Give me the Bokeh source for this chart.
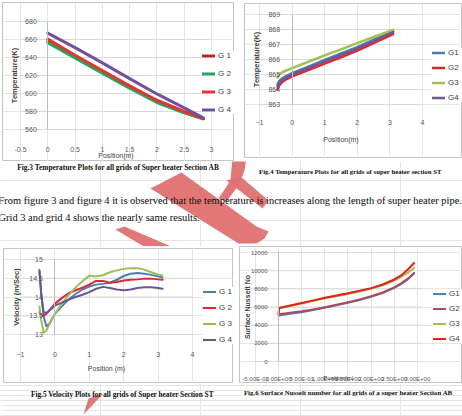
from bokeh.plotting import figure
from bokeh.layouts import column, row
from bokeh.models import (Range1d, LinearAxis, FixedTicker, Legend, LegendItem,
                          CustomJSTickFormatter)
from bokeh.core.properties import value
from bokeh.embed import file_html
from bokeh.resources import INLINE

# ---------------- data ----------------
series_names_spaced = ["G 1", "G 2", "G 3", "G 4"]
series_names = ["G1", "G2", "G3", "G4"]

# Fig.3  temperature along section AB
pos_ab = [0, 0.5, 1, 1.5, 2, 2.5, 2.85]
temp_ab_g1 = [658, 641, 623.5, 607, 591, 579, 572]
temp_ab_g2 = [656.5, 639.5, 622.5, 606, 590, 578.5, 572]
temp_ab_g3 = [660.5, 642.5, 625.5, 608.5, 592.5, 580, 572]
temp_ab_g4 = [667, 651, 634, 616.5, 599.5, 584, 573]
temp_ab_xticks = [-0.5, 0, 0.5, 1, 1.5, 2, 2.5, 3]
temp_ab_yticks = [560, 580, 600, 620, 640, 660, 680]

# Fig.4  temperature along section ST
pos_st = [-0.45, -0.4, -0.3, -0.2, 0, 0.5, 1, 1.5, 2, 2.5, 3.1]
temp_st_g1 = [864.35, 864.55, 864.75, 864.88, 865.09, 865.53, 865.97, 866.4, 866.83, 867.32, 867.88]
temp_st_g2 = [864.0, 864.25, 864.5, 864.65, 864.87, 865.3, 865.72, 866.15, 866.6, 867.1, 867.7]
temp_st_g3 = [864.8, 865.0, 865.15, 865.25, 865.42, 865.85, 866.27, 866.68, 867.09, 867.5, 867.98]
temp_st_g4 = [864.2, 864.4, 864.62, 864.77, 865.0, 865.44, 865.87, 866.3, 866.74, 867.22, 867.82]
temp_st_xticks = [-1, 0, 1, 2, 3, 4]
temp_st_yticks = [863, 864, 865, 866, 867, 868, 869]

# Fig.5  velocity along section ST
pos_vel = [-0.45, -0.4, -0.33, -0.25, -0.15, 0, 0.2, 0.4, 0.6, 0.8, 1.0, 1.2,
           1.4, 1.6, 1.8, 2.0, 2.2, 2.4, 2.6, 2.8, 3.0, 3.13]
vel_g1 = [14.68, 14.1, 13.5, 13.22, 13.3, 13.55, 13.75, 13.93, 14.08, 14.2, 14.28, 14.33,
          14.35, 14.38, 14.46, 14.56, 14.62, 14.64, 14.62, 14.59, 14.55, 14.52]
vel_g2 = [13.6, 13.52, 13.5, 13.55, 13.65, 13.82, 13.97, 14.1, 14.18, 14.25, 14.33, 14.43,
          14.43, 14.38, 14.4, 14.44, 14.46, 14.47, 14.49, 14.49, 14.47, 14.46]
vel_g3 = [13.75, 13.4, 13.05, 13.1, 13.3, 13.55, 13.82, 14.05, 14.25, 14.42, 14.57, 14.55,
          14.58, 14.66, 14.71, 14.75, 14.77, 14.77, 14.73, 14.66, 14.6, 14.57]
vel_g4 = [14.72, 14.1, 13.6, 13.57, 13.65, 13.77, 13.85, 13.93, 14.0, 14.06, 14.13, 14.22,
          14.27, 14.24, 14.2, 14.18, 14.2, 14.24, 14.26, 14.26, 14.24, 14.22]
vel_xticks = [-1, 0, 1, 2, 3, 4]
vel_yticks = [13, 13.5, 14, 14.5, 15]

# Fig.6  surface Nusselt number along section AB
pos_nu = [0, 0.01, 0.25, 0.5, 0.75, 1, 1.25, 1.5, 1.75, 2, 2.25, 2.5, 2.65, 2.8, 2.93]
nu_g1 = [5000, 5060, 5260, 5430, 5660, 5920, 6180, 6460, 6770, 7120, 7540, 8100, 8520, 9070, 9680]
nu_g2 = [5150, 5200, 5370, 5520, 5740, 5980, 6240, 6520, 6820, 7180, 7600, 8170, 8600, 9150, 9750]
nu_g3 = [5200, 5850, 6110, 6380, 6660, 6950, 7190, 7440, 7700, 8000, 8390, 8900, 9300, 9800, 10300]
nu_g4 = [5200, 5900, 6170, 6440, 6730, 7020, 7260, 7510, 7780, 8080, 8480, 9030, 9480, 10150, 10850]
nu_xticks = [-0.5, 0, 0.5, 1, 1.5, 2, 2.5, 3]
nu_yticks = [0, 2000, 4000, 6000, 8000, 10000, 12000]

captions = [
    "Fig.3 Temperature Plots for all grids of Super heater Section AB",
    "Fig.4 Temperature Plots for all grids of super heater section ST",
    "Fig.5 Velocity Plots for all grids of Super heater Section ST",
    "Fig.6 Surface Nusselt number for all grids of a super heater Section AB",
]
paragraph = [
    "From figure 3 and figure 4 it is observed that the temperature is increases along the length of super heater pipe.",
    "Grid 3 and grid 4 shows the nearly same results.",
]

# ---------------- styling ----------------
SANS = "Liberation Sans"
SERIF = "Liberation Serif"
GRID = "#d9d9d9"
TICK = "#595959"
TITLE = "#404040"
BORDER = "#c4c4c4"
WATERMARK = "#E07070"
PAGE_W = 462

plain_fmt = CustomJSTickFormatter(code="return tick.toString();")
exp_fmt = CustomJSTickFormatter(code="""
    return tick.toExponential(2).toUpperCase()
        .replace(/E([+-])(\\d)$/, function(m, s, d) { return 'E' + s + '0' + d; });
""")


def chart(box, grid_px, xext, yext, xticks, yticks, xlabel, ylabel, series, names, colors,
          width, legend_top, legend_pitch, legend_x, margin, xfmt=None, yfmt=None,
          x_std=(11, 2), y_std=(5, 12), tick_size="7px", xlabel_size="7px",
          ylabel_size="7.5px"):
    """One Excel-style chart; the whole figure is the plotting frame and its outline
    is the chart border. box / grid_px are page pixel rectangles (l, t, r, b)."""
    L, T, R, B = box
    gl, gt, gr, gb = grid_px
    x0, x1 = xext
    y0, y1 = yext
    sx = (gr - gl) / (x1 - x0)
    sy = (gb - gt) / (y1 - y0)
    xr = Range1d(x0 - (gl - L) / sx, x1 + (R - gr) / sx)
    yr = Range1d(y0 - (B - gb) / sy, y1 + (gt - T) / sy)
    p = figure(width=R - L, height=B - T, x_range=xr, y_range=yr,
               output_backend="svg", toolbar_location=None,
               x_axis_location=None, y_axis_location=None,
               min_border_left=0, min_border_right=0, min_border_top=0, min_border_bottom=0,
               background_fill_color="white", border_fill_color="white",
               outline_line_color=BORDER, outline_line_width=1, margin=margin)
    p.title.visible = False

    # horizontal gridlines limited to the plotting area
    p.segment(x0=[x0] * len(yticks), x1=[x1] * len(yticks), y0=yticks, y1=yticks,
              line_color=GRID, line_width=1)

    xa = LinearAxis(fixed_location=y0, ticker=FixedTicker(ticks=xticks), axis_label=xlabel,
                    bounds=(x0, x1))
    ya = LinearAxis(fixed_location=0, ticker=FixedTicker(ticks=yticks), axis_label=ylabel,
                    bounds=(y0, y1))
    if xfmt is not None:
        xa.formatter = xfmt
    if yfmt is not None:
        ya.formatter = yfmt
    for ax in (xa, ya):
        ax.major_tick_line_color = None
        ax.minor_tick_line_color = None
        ax.major_label_text_font = SANS
        ax.major_label_text_font_size = tick_size
        ax.major_label_text_color = TICK
        ax.axis_label_text_font = SANS
        ax.axis_label_text_color = TITLE
    xa.axis_line_color = GRID
    ya.axis_line_color = "#bdbdbd"
    xa.major_label_standoff, xa.axis_label_standoff = x_std
    ya.major_label_standoff, ya.axis_label_standoff = y_std
    xa.axis_label_text_font_size = xlabel_size
    ya.axis_label_text_font_size = ylabel_size
    ya.axis_label_text_font_style = "bold"
    xa.axis_label_text_font_style = "normal"
    p.add_layout(xa, "below")
    p.add_layout(ya, "left")

    xs, ys_list = series
    items = []
    for ys, name, col in zip(ys_list, names, colors):
        r = p.line(xs, ys, line_color=col, line_width=width, line_join="round",
                   line_cap="round")
        items.append(LegendItem(label=name, renderers=[r]))

    n = len(items)
    gh = 9
    spacing = int(round(legend_pitch - gh))
    leg_h = n * gh + (n - 1) * spacing
    legend = Legend(items=items, location=(legend_x - L, B - (legend_top + leg_h)),
                    padding=0, margin=0, spacing=spacing,
                    glyph_width=13, glyph_height=gh, label_height=gh, label_standoff=3,
                    label_text_font=SANS, label_text_font_size="8px", label_text_color=TITLE,
                    border_line_color=None, background_fill_color="white",
                    background_fill_alpha=1.0)
    p.add_layout(legend)
    return p


# top row: y 0..161
p3 = chart((2, 2, 234, 161), (20, 21, 211, 129), (-0.5, 3), (560, 680),
           temp_ab_xticks, temp_ab_yticks, "Position(m)", "Temperature(K)",
           (pos_ab, [temp_ab_g1, temp_ab_g2, temp_ab_g3, temp_ab_g4]), series_names_spaced,
           ["#B8262C", "#23A45B", "#E8342F", "#72509F"], 3,
           legend_top=51, legend_pitch=17.8, legend_x=202, margin=(2, 0, 0, 2),
           xfmt=plain_fmt, x_std=(11, -3), y_std=(5, 3))

p4 = chart((244, 3, 462, 158), (259, 14, 422, 104), (-1, 4), (863, 869),
           temp_st_xticks, temp_st_yticks, "Position(m)", "Temperature(K)",
           (pos_st, [temp_st_g1, temp_st_g2, temp_st_g3, temp_st_g4]), series_names,
           ["#4A7EBB", "#E3262B", "#A3C04F", "#6E5A92"], 2.5,
           legend_top=48, legend_pitch=15.3, legend_x=432, margin=(3, 0, 0, 10),
           x_std=(9, 8), y_std=(6, 5))

# bottom row: y 246..383
p5 = chart((3, 248, 233, 383), (20, 259, 192, 334), (-1, 4), (13, 15),
           vel_xticks, vel_yticks, "Position (m)", "Velocity (m/Sec)",
           (pos_vel, [vel_g1, vel_g2, vel_g3, vel_g4]), series_names_spaced,
           ["#4A7EBB", "#E3262B", "#9BBF4F", "#6E5592"], 2,
           legend_top=287, legend_pitch=15.9, legend_x=203, margin=(2, 0, 0, 3),
           yfmt=plain_fmt, x_std=(11, 5), y_std=(6, 5))

p6 = chart((239, 246, 462, 383), (255, 252, 421, 361), (-0.5, 3.09), (0, 12000),
           nu_xticks, nu_yticks, "Position(m)", "Surface Nusselt No",
           (pos_nu, [nu_g1, nu_g2, nu_g3, nu_g4]), series_names,
           ["#4F81BD", "#B04A5A", "#A8B84A", "#E4201F"], 2,
           legend_top=289, legend_pitch=14.5, legend_x=433, margin=(0, 0, 0, 6),
           xfmt=exp_fmt, x_std=(8, -10), y_std=(5, -3), tick_size="6px",
           xlabel_size="6px", ylabel_size="7px")

# ---------------- page strips: watermark, captions, body text ----------------
wm_xs = [[150, 181, 256, 268, 264, 256, 238],
         [232, 246, 244, 238, 226, 218, 230],
         [226, 240, 268, 262],
         [115, 124, 180, 150],
         [88, 103, 83]]
wm_ys = [[188, 172, 226, 231, 238, 243, 243],
         [157, 157, 170, 185, 201, 198, 180],
         [180, 176, 200, 208],
         [229, 226, 250, 250],
         [398, 393, 414]]


def strip(top, bottom):
    s = figure(width=PAGE_W, height=bottom - top, x_range=Range1d(0, PAGE_W),
               y_range=Range1d(bottom, top), output_backend="svg", toolbar_location=None,
               x_axis_location=None, y_axis_location=None,
               min_border_left=0, min_border_right=0, min_border_top=0, min_border_bottom=0,
               background_fill_color="white", border_fill_color="white",
               outline_line_color=None)
    s.title.visible = False
    s.patches(wm_xs, wm_ys, fill_color=WATERMARK, fill_alpha=0.95, line_color=None)
    return s


mid = strip(161, 246)
mid.text(x=[118, 350], y=[166.5, 171], text=captions[:2],
         text_font=value(SERIF), text_font_style="bold", text_font_size=["7.4px", "6.8px"],
         text_align="center", text_baseline="middle", text_color="#111111")
mid.text(x=[-2, -2], y=[200, 217], text=paragraph,
         text_font=value(SERIF), text_font_size="10.45px",
         text_align="left", text_baseline="middle", text_color="#111111")

foot = strip(383, 416)
foot.text(x=[122, 348], y=[393.5, 392], text=captions[2:],
          text_font=value(SERIF), text_font_style="bold", text_font_size=["7.3px", "6.9px"],
          text_align="center", text_baseline="middle", text_color="#111111")

root = column(row(p3, p4), mid, row(p5, p6), foot)
open("out.html", "w").write(file_html(root, INLINE))
